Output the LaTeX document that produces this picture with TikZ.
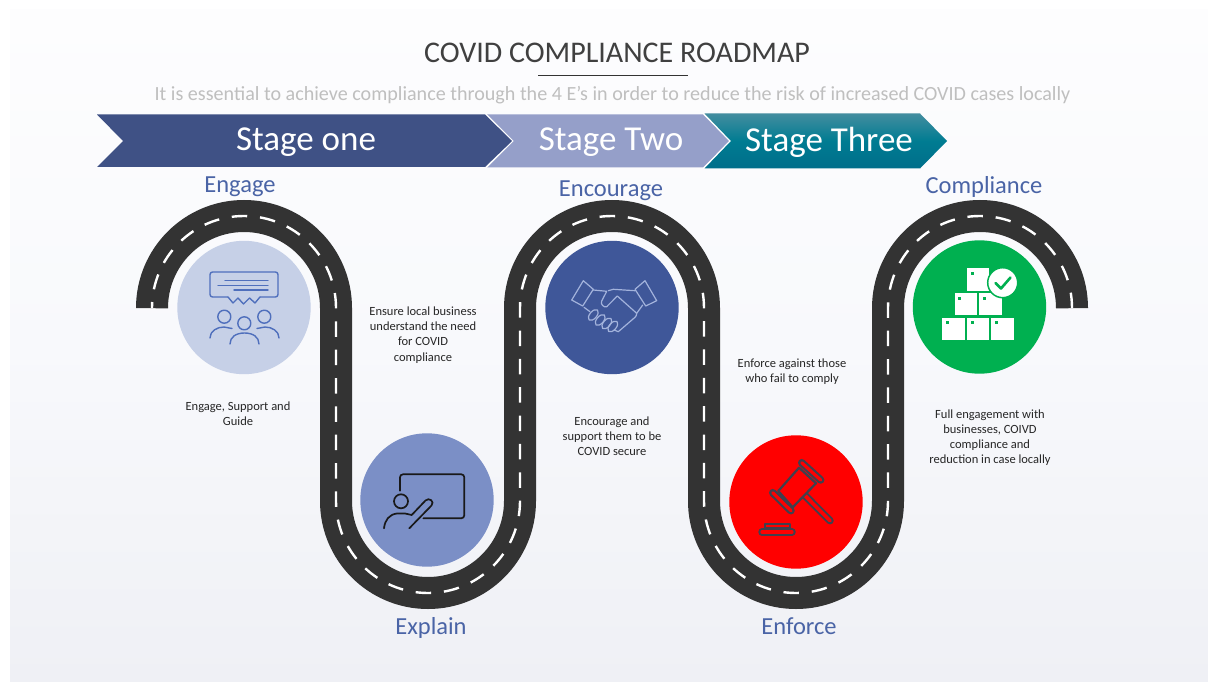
\documentclass[tikz,border=0pt]{standalone}
\usepackage{fontspec}
\setmainfont{Carlito}
\usepackage{tikz}
\usetikzlibrary{math}
\definecolor{roadcolor}{HTML}{333333}
\definecolor{labelcolor}{HTML}{4A64A6}
\definecolor{engagecolor}{HTML}{C6D0E7}
\definecolor{explaincolor}{HTML}{7B8FC6}
\definecolor{encouragecolor}{HTML}{3F5799}
\definecolor{compliancecolor}{HTML}{00B050}
\definecolor{stageonecolor}{HTML}{3F5185}
\definecolor{stagetwocolor}{HTML}{959FC9}
\definecolor{iconblue}{HTML}{4F6FBC}
\definecolor{iconpale}{HTML}{A3B3DC}
\definecolor{gavelcolor}{HTML}{40404E}
\definecolor{slidetop}{HTML}{FDFDFE}
\definecolor{slidemid}{HTML}{F8F9FC}
\definecolor{slidebot}{HTML}{EFF0F5}
\definecolor{tealtop}{HTML}{438D9F}
\definecolor{tealmid}{HTML}{007C92}
\definecolor{tealbot}{HTML}{006E8A}
\tikzset{
    stagelabel/.style={text=white, font=\fontsize{35}{35}\selectfont},
    steplabel/.style={text=labelcolor, font=\fontsize{24.5}{24.5}\selectfont},
    smalltext/.style={text=black!85, align=center, font=\fontsize{12.5}{15.2}\selectfont},
    stepdisc/.style={radius=66.7},
}

\begin{document}
\begin{tikzpicture}[x=1pt, y=-1pt]
    \tikzmath{%
        \rroad=92;
        \ytop=308;
        \ybot=501;
        \wroad=32;
    };
    \useasboundingbox (0, 0) rectangle (1208, 682);

    % slide
    \shade [top color=slidetop, bottom color=slidebot, middle color=slidemid] (10, 10) rectangle (1208, 682);

    % road
    \def\roadpath{(152, 307) -- (152, \ytop)
        arc [start angle=180, end angle=360, radius=\rroad] -- (336, \ybot)
        arc [start angle=180, end angle=0, radius=\rroad] -- (520, \ytop)
        arc [start angle=180, end angle=360, radius=\rroad] -- (704, \ybot)
        arc [start angle=180, end angle=0, radius=\rroad] -- (888, \ytop)
        arc [start angle=180, end angle=360, radius=\rroad] -- (1072, 307)}
    \draw [roadcolor, line width=\wroad] \roadpath;
    \draw [white, line width=2.4, dash pattern=on 15.5 off 12.85, dash phase=8.5] \roadpath;

    % discs
    \fill [engagecolor] (244, 307.5) circle [stepdisc];
    \fill [explaincolor] (427, 500) circle [stepdisc];
    \fill [encouragecolor] (612, 307.5) circle [stepdisc];
    \fill [red] (796, 502) circle [stepdisc];
    \fill [compliancecolor] (979.5, 307) circle [stepdisc];

    % engage icon
    \begin{scope}[iconblue, line width=1.4, line cap=round, line join=round]
        \draw [rounded corners=2.5] (228, 297) -- (210, 297) -- (210, 272) -- (278, 272) -- (278, 297) -- (260, 297);
        \draw (228, 297) -- (233, 303) -- (238, 298) -- (243.5, 304) -- (249.5, 298) -- (255, 303) -- (260, 297);
        \draw (225, 280.7) -- (268, 280.7);
        \draw (218, 285.3) -- (268, 285.3);
        \draw (234, 290) -- (268, 290);
        \foreach \xhead/\yhead in {224.3/316.7, 244.3/323.3, 264.3/316.7} {%
                \draw (\xhead, \yhead) circle [radius=6.5];
            }
        \draw (210, 338) .. controls (210, 331) and (217, 327) .. (224, 327) -- (232, 328.5);
        \draw (279, 338) .. controls (279, 331) and (272, 327) .. (265, 327) -- (257, 328.5);
        \draw (230, 344) .. controls (230, 337) and (236, 333) .. (244.5, 333) .. controls (253, 333) and (259, 337) .. (259, 344);
    \end{scope}

    % explain icon
    \begin{scope}[black!90, line width=1.7, line cap=round, line join=round]
        \draw [rounded corners=3] (400, 490.7) -- (400, 474.3) -- (464.3, 474.3) -- (464.3, 518.3) -- (423.3, 518.3);
        \draw (401, 501.3) circle [radius=7];
        \draw (384, 528.3) .. controls (385, 520) and (389, 514.5) .. (397, 513.5) -- (405, 513.5) -- (411.7, 515) -- (425.5, 500.5) .. controls (429, 497) and (435, 501.5) .. (431.5, 505.5) -- (409.3, 528.3);
    \end{scope}

    % encourage icon
    \begin{scope}[iconpale, line width=1.2, line join=round, line cap=round]
        \draw (583.3, 280.7) -- (593.3, 289.3) -- (582.7, 306) -- (571.7, 300) -- cycle;
        \draw (645, 280.7) -- (656.7, 300.7) -- (645.7, 306) -- (635, 289.3) -- cycle;
        \draw (593.3, 290) -- (606.7, 291.3) -- (601.7, 301) .. controls (600, 304) and (604, 308) .. (606.7, 306.7) -- (617.3, 296) -- (636.7, 313.3) .. controls (637, 315) and (636, 316) .. (635, 317.3) -- (618.3, 331.7) -- (614, 330);
        \draw (635, 290.7) -- (613.3, 289.3) -- (608.3, 290.7);
        \draw (584, 307.3) -- (590, 311.7);
        \draw (642.7, 305) -- (636.7, 313.3);
        \foreach \xfinger/\yfinger in {593.3/315, 600.2/320, 606.8/323.5, 612.8/326.5} {%
                \draw [shift={(\xfinger, \yfinger)}, rotate=50] (0, 0) ellipse [x radius=6.5, y radius=3.5];
            }
    \end{scope}

    % enforce icon
    \begin{scope}[gavelcolor, line cap=round, line join=round]
        \draw [line width=7.5] (805, 495.5) -- (830, 520.7);
        \draw [red, line width=3.6] (805, 495.5) -- (830, 520.7);
        \filldraw [fill=red, line width=2.2] (799, 467.7) -- (778.3, 491) -- (792.7, 507.3) -- (816, 483.3) -- cycle;
        \draw [line width=7.5] (801.7, 462.7) -- (820.7, 480) (772.7, 492.7) -- (791, 510.7);
        \draw [red, line width=3.2] (801.7, 462.7) -- (820.7, 480) (772.7, 492.7) -- (791, 510.7);
        \draw [line width=2.2] (765, 528) -- (765, 524) -- (790, 524) -- (790, 528) (765, 528) -- (790, 528);
        \draw [line width=7.5] (762, 532) -- (792, 532);
        \draw [red, line width=3.2] (762, 532) -- (792, 532);
    \end{scope}

    % compliance icon
    \foreach \xbox/\ybox in {942.3/317.7, 967/317.7, 991.3/317.7, 954.7/293, 979.3/293, 967/268.3} {%
            \fill [white] (\xbox, \ybox) rectangle ++(22.3, 22.3);
            \fill [compliancecolor] (\xbox+3.5, \ybox+3.5) rectangle ++(3, 3);
        }
    \filldraw [fill=white, draw=compliancecolor, line width=1.5] (1002.7, 282.7) circle [radius=15];
    \draw [compliancecolor, line width=2.6, line cap=round, line join=round] (995.5, 283) -- (1001, 288.5) -- (1010.5, 277.5);

    % stages
    \fill [stagetwocolor] (487, 114.5) -- (703, 114.5) -- (729, 141) -- (703, 167.5) -- (487, 167.5) -- (512, 141) -- cycle;
    \draw [white, line width=1] (703, 113) -- (730, 141) -- (703, 169);
    \shade [top color=tealtop, bottom color=tealbot, middle color=tealmid] (704.5, 113.5) -- (920, 113.5) -- (947, 141) -- (920, 168.5) -- (704.5, 168.5) -- (731, 141) -- cycle;
    \draw [white, line width=1] (485, 113) -- (513, 141) -- (485, 169);
    \fill [stageonecolor] (97, 114.5) -- (485, 114.5) -- (512, 141) -- (485, 167) -- (97, 167) -- (123, 141) -- cycle;

    % texts
    \node (title) [text=black!75, font=\fontsize{30}{30}\selectfont] at (617, 53) {COVID COMPLIANCE ROADMAP};
    \coordinate (ruleleft) at (538, 75);
    \coordinate (ruleright) at (688, 75);
    \draw [black!80, line width=0.8] (ruleleft) -- (ruleright);
    \node (subtitle) [text=black!25, font=\fontsize{20.1}{20.1}\selectfont] at (612.5, 95) {It is essential to achieve compliance through the 4 E’s in order to reduce the risk of increased COVID cases locally};

    \node (stageone) [stagelabel] at (306, 142) {Stage one};
    \node (stagetwo) [stagelabel] at (611, 142) {Stage Two};
    \node (stagethree) [stagelabel] at (829, 142) {Stage Three};

    \node (engage) [steplabel] at (240, 187) {Engage};
    \node (encourage) [steplabel] at (611, 191) {Encourage};
    \node (compliance) [steplabel] at (984, 187) {Compliance};
    \node (explain) [steplabel] at (431, 628) {Explain};
    \node (enforce) [steplabel] at (799, 626.5) {Enforce};

    \node (engagetext) [smalltext] at (238, 414) {Engage, Support and\\Guide};
    \node (explaintext) [smalltext] at (423, 335) {Ensure local business\\understand the need\\for COVID\\compliance};
    \node (encouragetext) [smalltext] at (612, 436) {Encourage and\\support them to be\\COVID secure};
    \node (enforcetext) [smalltext] at (792, 372) {Enforce against those\\who fail to comply};
    \node (compliancetext) [smalltext] at (990, 437.5) {Full engagement with\\businesses, COIVD\\compliance and\\reduction in case locally};

\end{tikzpicture}
\end{document}
